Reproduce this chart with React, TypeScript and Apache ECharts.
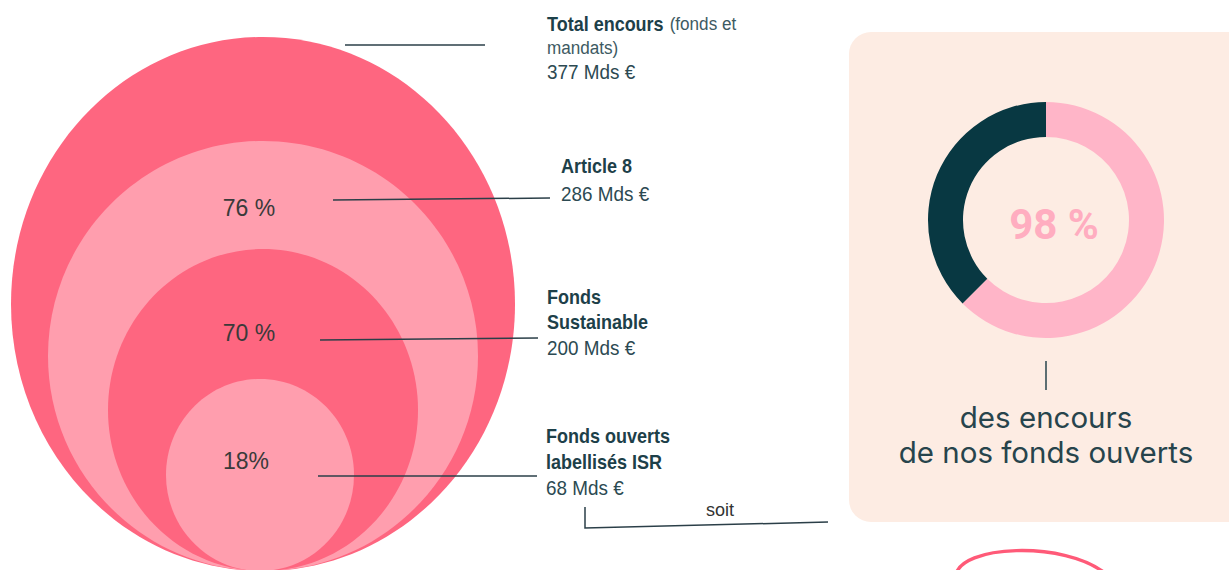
import React, { useEffect, useRef } from "react";
import * as echarts from "echarts";

// ---- data ----
const tierNames = ["Total encours", "Article 8", "Fonds Sustainable", "Fonds ouverts labellisés ISR"];
const tierAmounts = [377, 286, 200, 68]; // Mds €
const tierShares = ["", "76 %", "70 %", "18%"];
const donutLabels = ["Autres encours", "Fonds ouverts ISR"];
const donutValues = [62.5, 37.5];
const headlineShare = "98 %";
const captionLines = ["des encours", "de nos fonds ouverts"];

// ---- layout (pixels) ----
const W = 1229;
const H = 570;
const ellipseCenterX = [263, 263, 263, 260];
const ellipseBase = -1;
const ellipseRx = [252, 215, 155, 94];
const ellipseRy = [267, 215, 161, 96];
const ellipseColors = ["#fe6680", "#ff9eae", "#fe6680", "#ff9eae"];
const shareLabelPos = [[0, 0], [249, 208], [249, 333], [246, 461]];
const leaderLines = [
  [345, 45, 485, 45],
  [333, 200, 550, 198],
  [320, 340, 538, 338],
  [318, 476, 537, 476],
];
const blockPos = [[547, 12], [561, 153], [547, 284], [546, 423]];

const teal = "#1d4049";
const lineColor = "#2b3f48";
const narrow = "'Liberation Sans', Arial, sans-serif";

export default function App() {
  const ref = useRef<HTMLDivElement>(null);
  useEffect(() => {
    if (!ref.current) return;
    const chart = echarts.init(ref.current, undefined, { renderer: "svg" });

    const graphics: any[] = [];
    // right panel
    graphics.push({
      type: "rect",
      z: 0,
      shape: { x: 849, y: 32, width: 420, height: 490, r: 22 },
      style: { fill: "#fdece3" },
    });
    // leader lines
    leaderLines.forEach((l) =>
      graphics.push({
        type: "line",
        z: 10,
        shape: { x1: l[0], y1: l[1], x2: l[2], y2: l[3] },
        style: { stroke: lineColor, lineWidth: 1.5 },
      })
    );
    // share labels
    tierShares.forEach((s, i) => {
      if (!s) return;
      graphics.push({
        type: "text",
        z: 10,
        x: shareLabelPos[i][0],
        y: shareLabelPos[i][1],
        style: {
          text: s,
          fill: "#3a3a3a",
          font: `23px ${narrow}`,
          align: "center",
          verticalAlign: "middle",
        },
      });
    });
    // text blocks
    const blockTexts = [
      `{b|${tierNames[0]}}  {s|(fonds et}\n{s|mandats)}\n{n|${tierAmounts[0]} Mds €}`,
      `{b|${tierNames[1]}}\n{n|${tierAmounts[1]} Mds €}`,
      `{b|Fonds}\n{b|Sustainable}\n{n|${tierAmounts[2]} Mds €}`,
      `{b|Fonds ouverts}\n{b|labellisés ISR}\n{n|${tierAmounts[3]} Mds €}`,
    ];
    const lh = [24, 27, 25.5, 26];
    blockTexts.forEach((t, i) => {
      graphics.push({
        type: "text",
        z: 10,
        x: blockPos[i][0],
        y: blockPos[i][1],
        scaleX: 0.9,
        style: {
          text: t,
          align: "left",
          verticalAlign: "top",
          rich: {
            b: { fontFamily: narrow, fontWeight: "bold", fontSize: 20, fill: teal, lineHeight: lh[i] },
            s: { fontFamily: narrow, fontSize: 19, fill: "#3d5a62", lineHeight: lh[i] },
            n: { fontFamily: narrow, fontSize: 21, fill: "#2c4a52", lineHeight: lh[i] },
          },
        },
      });
    });
    // soit connector
    graphics.push({
      type: "polyline",
      z: 10,
      shape: { points: [[585, 507], [585, 528], [828, 522]] },
      style: { stroke: lineColor, lineWidth: 1.5, fill: null },
    });
    graphics.push({
      type: "text",
      z: 10,
      x: 720,
      y: 509,
      scaleX: 0.95,
      style: { text: "soit", font: `19px ${narrow}`, fill: "#333", align: "center", verticalAlign: "middle" },
    });
    // donut centre text
    graphics.push({
      type: "text",
      z: 10,
      x: 1054,
      y: 224,
      style: {
        text: headlineShare,
        font: "bold 42px Roboto, sans-serif",
        fill: "#ffadc0",
        align: "center",
        verticalAlign: "middle",
      },
    });
    graphics.push({
      type: "line",
      z: 10,
      shape: { x1: 1046, y1: 361, x2: 1046, y2: 390 },
      style: { stroke: "#27444c", lineWidth: 1.5 },
    });
    graphics.push({
      type: "text",
      z: 10,
      x: 1046,
      y: 399,
      style: {
        text: captionLines.join("\n"),
        font: "29.5px Inter, 'Noto Sans', sans-serif",
        lineHeight: 35,
        fill: "#27444c",
        align: "center",
        verticalAlign: "top",
      },
    });
    // red hand-drawn curve
    graphics.push({
      type: "bezierCurve",
      z: 10,
      shape: { x1: 956, y1: 576, cpx1: 958, cpy1: 545, cpx2: 1065, cpy2: 540, x2: 1106, y2: 574 },
      style: { stroke: "#ff5a78", lineWidth: 3.5, fill: null },
    });

    const option: any = {
      animation: false,
      grid: { left: 0, right: 0, top: 0, bottom: 0 },
      xAxis: { type: "value", min: 0, max: W, show: false },
      yAxis: { type: "value", min: 0, max: H, show: false },
      series: [
        {
          type: "custom",
          z: 2,
          silent: true,
          data: tierAmounts.map((v, i) => [i, v]),
          renderItem: (params: any, api: any) => {
            const i = params.dataIndex;
            const base = api.coord([ellipseCenterX[i], ellipseBase]);
            const size = api.size([ellipseRx[i], ellipseRy[i]]);
            return {
              type: "ellipse",
              shape: { cx: base[0], cy: base[1] - size[1], rx: size[0], ry: size[1] },
              style: { fill: ellipseColors[i] },
            };
          },
        },
        {
          type: "pie",
          z: 5,
          silent: true,
          center: [1046, 220],
          radius: [83, 118],
          startAngle: 90,
          label: { show: false },
          labelLine: { show: false },
          data: donutLabels.map((n, i) => ({ name: n, value: donutValues[i] })),
          color: ["#ffb5c8", "#083842"],
        },
      ],
      graphic: { elements: graphics },
    };
    chart.setOption(option);
    return () => chart.dispose();
  }, []);
  return (
    <div
      ref={ref}
      style={{ position: "absolute", left: 0, top: 0, width: W, height: H, background: "#fff" }}
    />
  );
}
